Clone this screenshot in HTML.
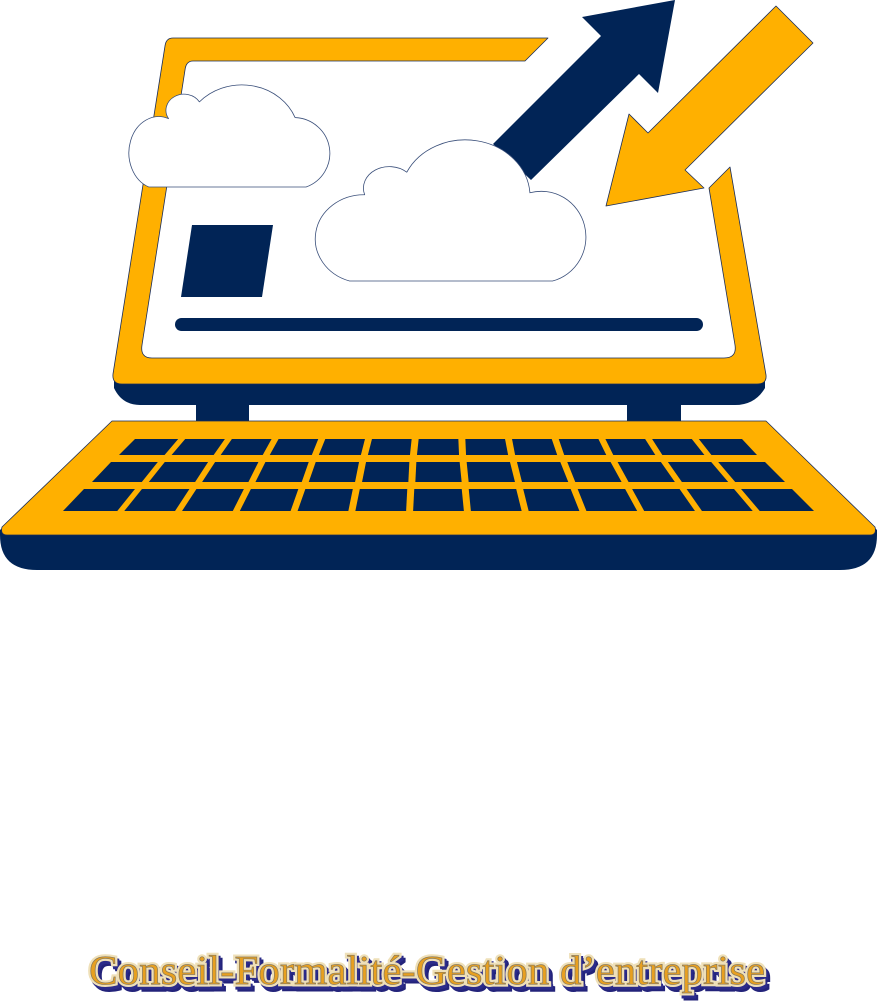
<!DOCTYPE html>
<html><head><meta charset="utf-8"><style>
html,body{margin:0;padding:0;background:#fff;}
svg{display:block}
</style></head><body>
<svg id="s" width="877" height="1002" viewBox="0 0 877 1002" xmlns="http://www.w3.org/2000/svg">
<g stroke="#1a2d5a" stroke-width="0.8" stroke-linejoin="round">
<path d="M114,380 L765,380 L765,388 Q755,405 735,405 L140,405 Q122,405 114,388 Z" fill="#012456" stroke="none"/>
<rect x="196" y="404" width="53" height="18" fill="#012456" stroke="none"/>
<rect x="627" y="404" width="54" height="18" fill="#012456" stroke="none"/>
<path d="M173,38 L548,38 L525,61 L193,61 Q186,61 185,70 L142,345 Q140,358 152,358 L724,358 Q737,358 735,345 L709,188 L730,167 L766,375 Q767,384 757,384 L122,384 Q112,384 113,374 L165,46 Q166,38 173,38 Z" fill="#FFB000"/>
<path d="M112,421 L766,421 L877,530 L877,535 Q877,570 840,570 L37,570 Q0,570 0,535 L0,530 Z" fill="#012456" stroke="none"/>
<path d="M112,421 L766,421 L875,527 Q877,535 870,535 L7,535 Q0,535 2,527 Z" fill="#FFB000"/>
<g id="keys" fill="#012456" stroke="none"></g>
<path d="M192,225 L273,225 L262,297 L181,297 Z" fill="#012456" stroke="none"/>
<rect x="175" y="318" width="528" height="13" rx="6.5" fill="#012456" stroke="none"/>
<path transform="matrix(1.1,0,0,1.12,-21.7,-22.44)" vector-effect="non-scaling-stroke" d="M155,187 H298 A33,32 0 0 0 288,125 A52,46 0 0 0 201,111 A16,14 0 0 0 173,126 A26,31 0 0 0 155,187 Z" fill="#fff" stroke="#3a4f7a"/>
<path d="M675,0 L658,93 L639,74 L531,180 L493,144 L601,36 L582,17 Z" fill="#012456" stroke="none"/>
<path d="M776,6 L813,43 L685,170 L704,188 L606,206 L629,114 L648,133 Z" fill="#FFB000"/>
<path transform="matrix(1.08,0,0,0.98,-39.24,5.62)" vector-effect="non-scaling-stroke" d="M360,281 H548 A40,45 0 0 0 527,191 A60,58 0 0 0 413,170 A24,22 0 0 0 374,193 A45,45 0 0 0 360,281 Z" fill="#fff" stroke="#3a4f7a"/>
</g>
<g font-family="'Liberation Serif',serif" font-size="41" text-anchor="start">
<text x="93" y="989" textLength="676" lengthAdjust="spacingAndGlyphs" fill="#23237a" stroke="#23237a" stroke-width="5">Conseil-Formalité-Gestion d’entreprise</text>
<text x="91" y="987" textLength="676" lengthAdjust="spacingAndGlyphs" fill="#2b2b8a" stroke="#2b2b8a" stroke-width="5">Conseil-Formalité-Gestion d’entreprise</text>
<text x="89" y="984" textLength="676" lengthAdjust="spacingAndGlyphs" fill="#e8a020" stroke="#efe0b8" stroke-width="5" paint-order="stroke">Conseil-Formalité-Gestion d’entreprise</text>
<text x="89" y="984" textLength="676" lengthAdjust="spacingAndGlyphs" fill="#e8a020" stroke="#8a7a5a" stroke-width="0.7">Conseil-Formalité-Gestion d’entreprise</text>
</g>
</svg>
<script>
var rows=[[439,455,135,742,119,757],[462,482,111,765,92,785],[489,511,84,792,63,814]];
var g=document.getElementById('keys'),h='';
rows.forEach(function(r){
 var n=13,gap=7;
 for(var j=0;j<n;j++){
  var tl=r[2]+(r[3]-r[2])*j/n,tr=r[2]+(r[3]-r[2])*(j+1)/n;
  var bl=r[4]+(r[5]-r[4])*j/n,br=r[4]+(r[5]-r[4])*(j+1)/n;
  if(j>0){tl+=gap/2;bl+=gap/2;} if(j<n-1){tr-=gap/2;br-=gap/2;}
  h+='<polygon points="'+tl+','+r[0]+' '+tr+','+r[0]+' '+br+','+r[1]+' '+bl+','+r[1]+'"/>';
 }
});
g.innerHTML=h;
</script>
</body></html>
